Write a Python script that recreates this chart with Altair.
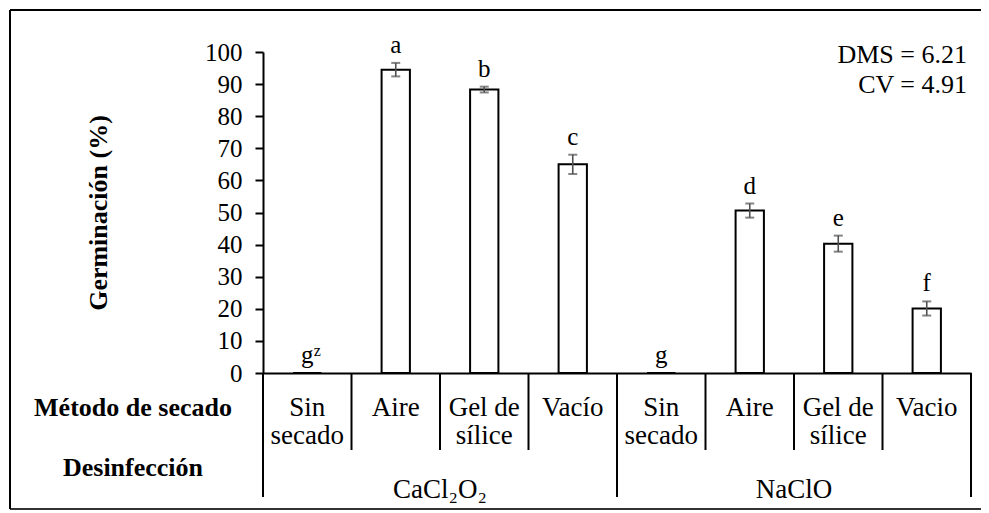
import altair as alt
import pandas as pd

# ---- data ----
disinfection = ["CaCl₂O₂"] * 4 + ["NaClO"] * 4
methods = ["Sin\nsecado", "Aire", "Gel de\nsílice", "Vacío",
           "Sin\nsecado", "Aire", "Gel de\nsílice", "Vacio"]
germination = [0, 94.5, 88.3, 65.0, 0, 50.6, 40.3, 20.1]
error = [0, 2.1, 0.9, 3.0, 0, 2.2, 2.5, 2.2]
letters = ["g", "a", "b", "c", "g", "d", "e", "f"]
superscripts = ["z", "", "", "", "", "", "", ""]
group_labels = ["CaCl₂O₂", "NaClO"]
stats_lines = ["DMS = 6.21", "CV = 4.91"]
row_labels = ["Método de secado", "Desinfección"]
y_ticks = list(range(0, 101, 10))

W, H = 708, 321
FONT = "Liberation Serif"
FS = 25
FS_TABLE = 27

df = pd.DataFrame({
    "pos": list(range(len(methods))),
    "group": disinfection,
    "method": methods,
    "mean": germination,
    "sd": error,
    "letter": letters,
    "sup": superscripts,
})
df["lo"] = df["mean"] - df["sd"]
df["hi"] = df["mean"] + df["sd"]
df["first"] = df["group"] != df["group"].shift(1)

grp = pd.DataFrame({
    "group": group_labels,
    # the centre of each 4-category group is the left edge of its 3rd category
    "pos": [df[df["group"] == g]["pos"].iloc[2] for g in disinfection[::4]],
})

xs = alt.Scale(paddingInner=0, paddingOuter=0, domain=list(range(len(methods))))
ys = alt.Scale(domain=[0, 100], nice=False)

XAX = alt.Axis(labels=False, ticks=False, title=None, grid=False,
               domainColor="black", domainWidth=2)
YAX = alt.Axis(values=y_ticks, grid=False, tickSize=8, tickWidth=2,
               tickColor="black", domainColor="black", domainWidth=2,
               labelFontSize=FS, labelColor="black", labelPadding=13,
               labelFont=FONT, labelOverlap=False,
               title="Germinación (%)", titleFont=FONT, titleFontSize=26,
               titleFontWeight="bold", titleColor="black",
               titleX=-165, titleY=H / 2, titleAngle=270,
               titleAlign="center", titleBaseline="middle")


def xe(**kw):
    return alt.X("pos:O", scale=xs, axis=XAX, **kw)


def ye(field):
    return alt.Y(field, scale=ys, axis=YAX)


base = alt.Chart(df)

bars = base.mark_bar(width=alt.RelativeBandSize(0.32), fill="white",
                     stroke="black", strokeWidth=2).encode(x=xe(), y=ye("mean:Q"))

eb = base.transform_filter("datum.mean > 0")
err = eb.mark_rule(color="#505050", strokeWidth=1.6).encode(
    x=xe(), y=ye("lo:Q"), y2="hi:Q")
cap_hi = eb.mark_tick(color="#505050", size=9, thickness=2).encode(
    x=xe(), y=ye("hi:Q"))
cap_lo = eb.mark_tick(color="#505050", size=9, thickness=2).encode(
    x=xe(), y=ye("lo:Q"))

letter_txt = base.mark_text(font=FONT, fontSize=FS, dy=-10, baseline="alphabetic",
                            color="black").encode(
    x=xe(), y=ye("hi:Q"), text="letter:N")
sup_txt = base.transform_filter("datum.sup != ''").mark_text(
    font=FONT, fontSize=16, dx=10, dy=-17, baseline="alphabetic",
    color="black").encode(
    x=xe(), y=ye("hi:Q"), text="sup:N")

# ---- table under the axis ----
short_div = base.transform_filter("!datum.first").mark_rule(
    color="black", strokeWidth=2).encode(
    x=xe(bandPosition=0), y=alt.value(H), y2=alt.value(H + 77))
long_div = base.transform_filter("datum.first").mark_rule(
    color="black", strokeWidth=2).encode(
    x=xe(bandPosition=0), y=alt.value(H), y2=alt.value(H + 124))
end_div = base.transform_filter("datum.pos == %d" % (len(methods) - 1)).mark_rule(
    color="black", strokeWidth=2).encode(
    x=xe(bandPosition=1), y=alt.value(H), y2=alt.value(H + 124))

method_txt = base.mark_text(font=FONT, fontSize=FS_TABLE, baseline="alphabetic",
                            lineBreak="\n", lineHeight=28, color="black").encode(
    x=xe(), y=alt.value(H + 43), text="method:N")

group_txt = alt.Chart(grp).mark_text(font=FONT, fontSize=FS_TABLE,
                                     baseline="alphabetic", color="black").encode(
    x=xe(bandPosition=0), y=alt.value(H + 125), text="group:N")

rows = pd.DataFrame({"label": row_labels, "ypix": [H + 43, H + 103]})
row_txt = alt.Chart(rows).mark_text(font=FONT, fontSize=26, fontWeight="bold",
                                    baseline="alphabetic", color="black").encode(
    x=alt.value(-130), y=alt.Y("ypix:Q", scale=None, axis=None), text="label:N")

stats = alt.Chart(pd.DataFrame({"t": ["\n".join(stats_lines)]})).mark_text(
    font=FONT, fontSize=26, align="right", baseline="alphabetic",
    lineBreak="\n", lineHeight=30, color="black").encode(
    x=alt.value(704), y=alt.value(11), text="t:N")

one = pd.DataFrame({"a": [0]})
frame_top = alt.Chart(one).mark_rule(color="black", strokeWidth=2).encode(
    x=alt.value(-253), x2=alt.value(740), y=alt.value(-42))
frame_bot = alt.Chart(one).mark_rule(color="#333333", strokeWidth=2).encode(
    x=alt.value(-253), x2=alt.value(740), y=alt.value(457))
frame_left = alt.Chart(one).mark_rule(color="black", strokeWidth=2).encode(
    x=alt.value(-253), y=alt.value(-42), y2=alt.value(457))

chart = alt.layer(
    bars, err, cap_hi, cap_lo, letter_txt, sup_txt,
    short_div, long_div, end_div, method_txt, group_txt, row_txt, stats,
    frame_top, frame_bot, frame_left,
).properties(
    width=W, height=H,
    padding={"left": 255, "top": 44, "right": 10, "bottom": 139},
    autosize=alt.AutoSizeParams(type="none"),
    background="white",
).configure(font=FONT).configure_view(stroke=None)

chart.save("out.html", embed_options={"renderer": "svg", "actions": False})
